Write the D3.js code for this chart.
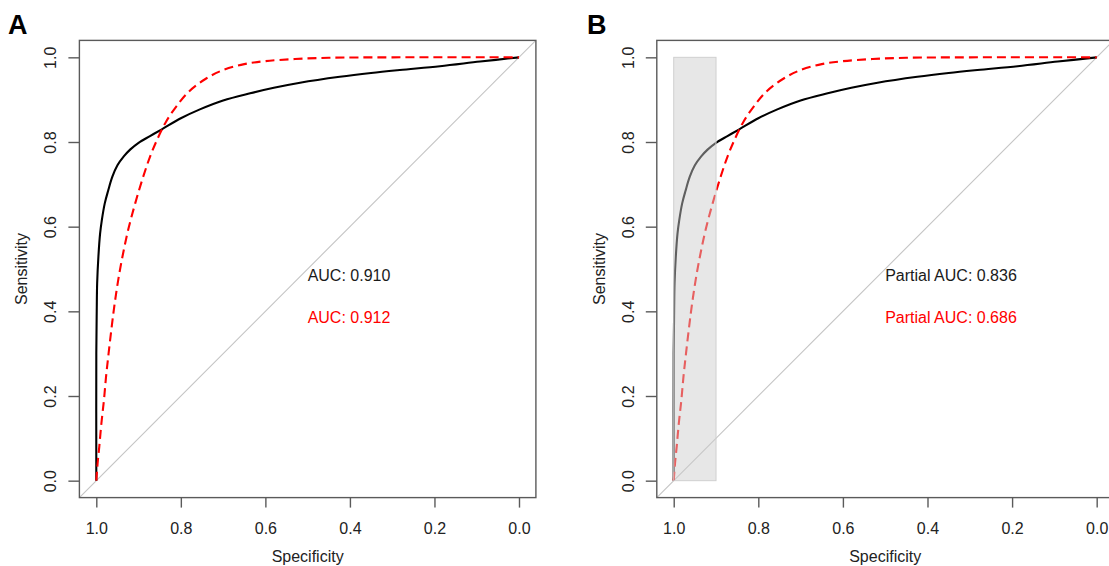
<!DOCTYPE html>
<html>
<head>
<meta charset="utf-8">
<script src="https://cdn.jsdelivr.net/npm/d3@7"></script>
<style>
  html, body { margin: 0; padding: 0; background: #fff; }
  svg { display: block; font-family: "Liberation Sans", Arial, sans-serif; }
</style>
</head>
<body>
<svg id="chart" width="1109" height="566"></svg>
<script>
// ROC curve 1 (solid black): specificity / sensitivity pairs
const roc1Spec = [1.000, 1.000, 0.999, 0.998, 0.995, 0.991, 0.987, 0.980, 0.972, 0.962, 0.950, 0.935, 0.920, 0.900, 0.873, 0.845, 0.800, 0.755, 0.700, 0.636, 0.580, 0.518, 0.424, 0.350, 0.282, 0.187, 0.092, 0.000];
const roc1Sens = [0.000, 0.300, 0.400, 0.466, 0.530, 0.584, 0.615, 0.655, 0.685, 0.718, 0.745, 0.766, 0.782, 0.798, 0.814, 0.830, 0.856, 0.877, 0.898, 0.915, 0.928, 0.940, 0.954, 0.963, 0.970, 0.979, 0.990, 1.000];

// ROC curve 2 (dashed red)
const roc2Spec = [1.000, 0.997, 0.993, 0.988, 0.982, 0.977, 0.971, 0.964, 0.957, 0.948, 0.937, 0.924, 0.908, 0.890, 0.873, 0.855, 0.835, 0.810, 0.780, 0.740, 0.700, 0.650, 0.600, 0.530, 0.450, 0.300, 0.000];
const roc2Sens = [0.000, 0.040, 0.080, 0.135, 0.190, 0.245, 0.300, 0.360, 0.415, 0.475, 0.535, 0.595, 0.655, 0.715, 0.765, 0.808, 0.848, 0.885, 0.920, 0.950, 0.970, 0.984, 0.991, 0.996, 0.999, 1.000, 1.000];

// Axis ticks
const tickValues = [1.0, 0.8, 0.6, 0.4, 0.2, 0.0];

// Annotations
const aucLabels = ["AUC: 0.910", "AUC: 0.912"];
const pAucLabels = ["Partial AUC: 0.836", "Partial AUC: 0.686"];
const labelColors = ["#1a1a1a", "#ff0000"];
const labelSens = [0.5, 0.4];
const labelSpec = 0.5;

// Partial-AUC specificity window
const pAucRange = [1.0, 0.9];

const svg = d3.select("#chart");
const fmt = d3.format(".1f");

const series = [
  { spec: roc1Spec, sens: roc1Sens, color: "#000000", dash: null },
  { spec: roc2Spec, sens: roc2Sens, color: "#ff0000", dash: "9,5" }
];

function drawPanel(opts) {
  const { left, right, top, bottom, letter, letterX, labels, shade, clipId } = opts;

  const x = d3.scaleLinear().domain([1.04, -0.04]).range([left, right]);
  const y = d3.scaleLinear().domain([-0.04, 1.04]).range([bottom, top]);

  const g = svg.append("g");

  g.append("clipPath").attr("id", clipId)
    .append("rect").attr("x", left).attr("y", top)
    .attr("width", right - left).attr("height", bottom - top);

  const plot = g.append("g").attr("clip-path", `url(#${clipId})`);

  // chance diagonal
  plot.append("line")
    .attr("x1", x(1.04)).attr("y1", y(-0.04))
    .attr("x2", x(-0.04)).attr("y2", y(1.04))
    .attr("stroke", "#c4c4c4").attr("stroke-width", 1.1);

  const line = d3.line()
    .x(d => x(d[0])).y(d => y(d[1]))
    .curve(d3.curveCatmullRom.alpha(0.5));

  series.forEach(s => {
    const pts = s.spec.map((v, i) => [v, s.sens[i]]);
    plot.append("path")
      .attr("d", line(pts))
      .attr("fill", "none")
      .attr("stroke", s.color)
      .attr("stroke-width", 2.1)
      .attr("stroke-dasharray", s.dash)
      .attr("stroke-linecap", "butt");
  });

  if (shade) {
    plot.append("rect")
      .attr("x", x(shade[0])).attr("y", y(1))
      .attr("width", x(shade[1]) - x(shade[0]))
      .attr("height", y(0) - y(1))
      .attr("fill", "rgb(205,205,205)").attr("fill-opacity", 0.47)
      .attr("stroke", "#cfcfcf").attr("stroke-width", 1);
  }

  // annotation text
  labels.forEach((t, i) => {
    g.append("text")
      .attr("x", x(labelSpec)).attr("y", y(labelSens[i]) + 12)
      .attr("font-size", 16).attr("fill", labelColors[i])
      .text(t);
  });

  // plot box
  g.append("rect")
    .attr("x", left).attr("y", top)
    .attr("width", right - left).attr("height", bottom - top)
    .attr("fill", "none").attr("stroke", "#5a5a5a").attr("stroke-width", 1.4);

  // x axis
  const xAxis = d3.axisBottom(x).tickValues(tickValues).tickFormat(fmt).tickSize(10).tickSizeOuter(0);
  const gx = g.append("g").attr("transform", `translate(0,${bottom})`).call(xAxis);
  gx.select(".domain").remove();
  gx.selectAll(".tick line").attr("stroke", "#5a5a5a").attr("stroke-width", 1.4);
  gx.selectAll(".tick text")
    .attr("y", 0).attr("dy", null)
    .attr("transform", "translate(0,36)")
    .attr("font-size", 16).attr("fill", "#222")
    .attr("font-family", "Liberation Sans, Arial, sans-serif");

  // y axis
  const yAxis = d3.axisLeft(y).tickValues(tickValues).tickFormat(fmt).tickSize(11).tickSizeOuter(0);
  const gy = g.append("g").attr("transform", `translate(${left},0)`).call(yAxis);
  gy.select(".domain").remove();
  gy.selectAll(".tick line").attr("stroke", "#5a5a5a").attr("stroke-width", 1.4);
  gy.selectAll(".tick text")
    .attr("x", 0).attr("dy", null).attr("y", 0)
    .attr("text-anchor", "middle")
    .attr("transform", "translate(-23,0) rotate(-90)")
    .attr("font-size", 16).attr("fill", "#222")
    .attr("font-family", "Liberation Sans, Arial, sans-serif");

  // axis titles
  g.append("text")
    .attr("x", (left + right) / 2).attr("y", 562)
    .attr("text-anchor", "middle").attr("font-size", 16).attr("fill", "#222")
    .text("Specificity");
  g.append("text")
    .attr("transform", `translate(${left - 52},${(top + bottom) / 2}) rotate(-90)`)
    .attr("text-anchor", "middle").attr("font-size", 16).attr("fill", "#222")
    .text("Sensitivity");

  // panel letter
  g.append("text")
    .attr("x", letterX).attr("y", 34)
    .attr("font-size", 27).attr("font-weight", "bold").attr("fill", "#000")
    .text(letter);
}

drawPanel({ left: 79.4, right: 535.9, top: 40.4, bottom: 497.6, letter: "A", letterX: 8, labels: aucLabels, shade: null, clipId: "clipA" });
drawPanel({ left: 656.8, right: 1113.6, top: 40.4, bottom: 497.6, letter: "B", letterX: 587, labels: pAucLabels, shade: pAucRange, clipId: "clipB" });
</script>
</body>
</html>
